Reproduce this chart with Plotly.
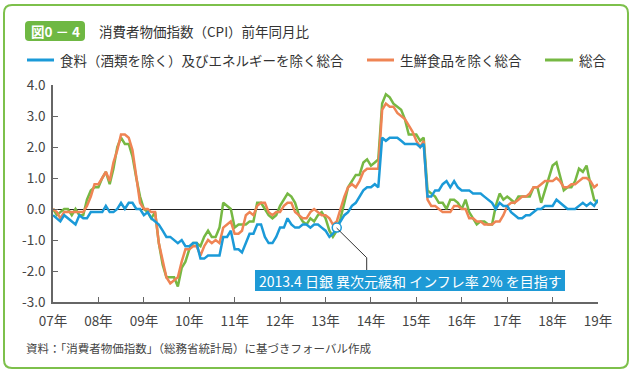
import pandas as pd
import plotly.graph_objects as go

# ---------------- data ----------------
months = pd.date_range("2007-01-01", "2019-01-01", freq="MS")

core_core = [  # 食料（酒類を除く）及びエネルギーを除く総合
    -0.2, -0.3, -0.4, -0.2, -0.3, -0.4, -0.5, -0.2, -0.3, -0.3, -0.1, -0.1,
    -0.1, -0.1, 0.1, -0.1, -0.1, 0.0, 0.2, 0.0, 0.2, 0.2, 0.0, 0.0,
    -0.2, -0.1, -0.3, -0.4, -0.5, -0.7, -0.9, -0.9, -1.0, -1.1, -1.0, -1.2,
    -1.2, -1.1, -1.1, -1.6, -1.6, -1.5, -1.5, -1.5, -1.5, -0.9, -0.9, -0.7,
    -1.3, -1.3, -1.4, -1.1, -0.8, -0.8, -0.5, -0.5, -0.9, -1.1, -1.1, -0.9,
    -0.6, -0.6, -0.3, -0.5, -0.6, -0.6, -0.5, -0.5, -0.6, -0.5, -0.5, -0.6,
    -0.7, -0.9, -0.8, -0.6, -0.4, -0.2, -0.1, 0.1, 0.2, 0.4, 0.6, 0.7,
    0.7, 0.8, 0.7, 2.3, 2.2, 2.3, 2.3, 2.3, 2.2, 2.1, 2.1, 2.1,
    2.1, 2.0, 2.1, 0.4, 0.4, 0.6, 0.6, 0.8, 0.9, 0.7, 0.9, 0.7,
    0.6, 0.6, 0.6, 0.5, 0.5, 0.5, 0.4, 0.3, 0.2, 0.0, 0.2, 0.1,
    0.1, -0.1, -0.2, -0.3, -0.3, -0.2, -0.2, -0.1, 0.0, 0.0, 0.1, 0.1,
    0.1, 0.3, 0.2, 0.1, 0.0, 0.0, 0.0, 0.1, 0.2, 0.1, 0.2, 0.1,
    0.3,
]

core = [  # 生鮮食品を除く総合
    0.0, -0.1, -0.3, -0.1, -0.1, -0.1, -0.1, -0.1, -0.1, 0.1, 0.4, 0.8,
    0.8, 1.0, 1.2, 0.9, 1.5, 1.9, 2.4, 2.4, 2.3, 1.9, 1.0, 0.2,
    0.0, 0.0, -0.1, -0.1, -1.1, -1.7, -2.2, -2.4, -2.3, -2.2, -1.7, -1.3,
    -1.3, -1.2, -1.2, -1.5, -1.2, -1.0, -1.1, -1.0, -1.1, -0.6, -0.5, -0.4,
    -0.8, -0.8, -0.7, -0.2, -0.1, -0.2, 0.1, 0.2, 0.2, -0.1, -0.2, -0.1,
    -0.1, 0.1, 0.2, 0.2, -0.1, -0.2, -0.3, -0.3, -0.1, 0.0, -0.1, -0.2,
    -0.2, -0.3, -0.5, -0.4, 0.0, 0.4, 0.7, 0.8, 0.7, 0.9, 1.2, 1.3,
    1.3, 1.3, 1.3, 3.2, 3.4, 3.3, 3.3, 3.1, 3.0, 2.9, 2.7, 2.5,
    2.2, 2.0, 2.2, 0.3, 0.1, 0.1, 0.0, -0.1, -0.1, -0.1, 0.1, 0.1,
    0.0, 0.0, -0.3, -0.3, -0.4, -0.4, -0.5, -0.5, -0.5, -0.4, -0.4, -0.2,
    0.1, 0.2, 0.2, 0.3, 0.4, 0.4, 0.5, 0.7, 0.7, 0.8, 0.9, 0.9,
    0.9, 1.0, 0.9, 0.7, 0.7, 0.8, 0.8, 0.9, 1.0, 1.0, 0.9, 0.7,
    0.8,
]

headline = [  # 総合
    0.0, -0.2, -0.1, 0.0, 0.0, -0.2, 0.0, -0.2, -0.2, 0.3, 0.6, 0.7,
    0.7, 1.0, 1.2, 0.8, 1.3, 2.0, 2.3, 2.1, 2.1, 1.7, 1.0, 0.4,
    0.0, -0.1, -0.3, -0.1, -1.1, -1.8, -2.2, -2.2, -2.2, -2.5, -1.9, -1.7,
    -1.3, -1.1, -1.1, -1.2, -0.9, -0.7, -0.9, -0.9, -0.6, 0.2, 0.1, 0.0,
    -0.6, -0.5, -0.5, -0.5, -0.4, -0.4, 0.2, 0.2, 0.0, -0.2, -0.3, -0.2,
    0.1, 0.3, 0.5, 0.4, 0.2, -0.2, -0.4, -0.5, -0.3, -0.4, -0.2, -0.1,
    -0.3, -0.7, -0.9, -0.7, -0.3, 0.2, 0.7, 0.9, 1.1, 1.1, 1.5, 1.6,
    1.4, 1.5, 1.6, 3.4, 3.7, 3.6, 3.4, 3.3, 3.2, 2.9, 2.4, 2.4,
    2.4, 2.2, 2.3, 0.6, 0.5, 0.4, 0.2, 0.2, 0.0, 0.3, 0.3, 0.2,
    0.0, 0.3, -0.1, -0.3, -0.5, -0.4, -0.4, -0.5, -0.5, 0.1, 0.5, 0.3,
    0.4, 0.3, 0.2, 0.4, 0.4, 0.4, 0.4, 0.7, 0.7, 0.2, 0.6, 1.0,
    1.4, 1.5, 1.1, 0.6, 0.7, 0.7, 0.9, 1.3, 1.2, 1.4, 0.8, 0.3,
    0.2,
]

series_names = ["食料（酒類を除く）及びエネルギーを除く総合", "生鮮食品を除く総合", "総合"]
year_ticks = [f"{y}-01-01" for y in range(2007, 2020)]
year_labels = ["07年", "08年", "09年", "10年", "11年", "12年", "13年",
               "14年", "15年", "16年", "17年", "18年", "19年"]
y_ticks = [-3, -2, -1, 0, 1, 2, 3, 4]
y_labels = ["-3.0", "-2.0", "-1.0", "0.0", "1.0", "2.0", "3.0", "4.0"]

event_month = "2013-04-01"
event_text = "2013.4 日銀 異次元緩和 インフレ率 2% を目指す"
title_badge = "図0 － 4"
title_text = "消費者物価指数（CPI）前年同月比"
source_text = "資料：「消費者物価指数」（総務省統計局）に基づきフォーバル作成"

# ---------------- style ----------------
BLUE = "#1b9ad8"
ORANGE = "#ef8454"
GREEN = "#76b843"
FRAME = "#7dc04b"
FONT = "Noto Sans CJK JP, Noto Sans, sans-serif"
W, H = 633, 373
L, R, T, B = 53, 598, 85, 302


def px(x):
    return (x - L) / (R - L)


def py(y):
    return (B - y) / (B - T)


def rounded(x0p, y0p, x1p, y1p, rad):
    x0, y0, x1, y1 = px(x0p), py(y0p), px(x1p), py(y1p)
    r, ry = rad / (R - L), rad / (B - T)
    return (f"M {x0+r},{y0} L {x1-r},{y0} Q {x1},{y0} {x1},{y0-ry} "
            f"L {x1},{y1+ry} Q {x1},{y1} {x1-r},{y1} L {x0+r},{y1} "
            f"Q {x0},{y1} {x0},{y1+ry} L {x0},{y0-ry} Q {x0},{y0} {x0+r},{y0} Z")


fig = go.Figure()
for vals, col in [(headline, GREEN), (core, ORANGE), (core_core, BLUE)]:
    fig.add_trace(go.Scatter(x=months, y=vals, mode="lines",
                             line=dict(color=col, width=2.5),
                             showlegend=False, hoverinfo="skip"))

ev_idx = list(months).index(pd.Timestamp(event_month))
ev_val = core_core[ev_idx]

shapes = []
annotations = []

# outer rounded frame
shapes.append(dict(type="path", xref="paper", yref="paper",
                   path=rounded(4, 5, 628, 368, 8),
                   line=dict(color=FRAME, width=2), layer="below"))

# title badge
shapes.append(dict(type="path", xref="paper", yref="paper",
                   path=rounded(25, 21, 85, 41, 4),
                   fillcolor="#6fb843", line=dict(width=0), layer="below"))
annotations.append(dict(xref="paper", yref="paper", x=px(55), y=py(31),
                        xanchor="center", yanchor="middle",
                        text=f"<b>{title_badge}</b>", showarrow=False,
                        font=dict(color="white", size=13.5, family=FONT)))
annotations.append(dict(xref="paper", yref="paper", x=px(97), y=py(31),
                        xanchor="left", yanchor="middle", text=title_text,
                        showarrow=False, font=dict(color="#333", size=13.5, family=FONT)))

# legend
legend_pos = [(27, 54, 58), (367, 394, 398), (545, 573, 577)]
for (lx0, lx1, tx), name, col in zip(legend_pos, series_names, [BLUE, ORANGE, GREEN]):
    shapes.append(dict(type="line", xref="paper", yref="paper",
                       x0=px(lx0), x1=px(lx1), y0=py(60), y1=py(60),
                       line=dict(color=col, width=3)))
    annotations.append(dict(xref="paper", yref="paper", x=px(tx), y=py(60),
                            xanchor="left", yanchor="middle", text=name,
                            showarrow=False, font=dict(color="#333", size=13.5, family=FONT)))

# event leader line and box
shapes.append(dict(type="path", xref="paper", yref="paper",
                   path=f"M {px(336.6)},{py(228)} L {px(366.7)},{py(257.7)} L {px(366.7)},{py(270)}",
                   line=dict(color="#333", width=1)))
shapes.append(dict(type="rect", xref="paper", yref="paper",
                   x0=px(255), x1=px(565), y0=py(270), y1=py(291),
                   fillcolor="#1e9ad6", line=dict(width=0)))
annotations.append(dict(xref="paper", yref="paper", x=px(410), y=py(280.5),
                        xanchor="center", yanchor="middle", text=event_text,
                        showarrow=False, font=dict(color="white", size=14, family=FONT)))

# source
annotations.append(dict(xref="paper", yref="paper", x=px(24), y=py(348),
                        xanchor="left", yanchor="middle", text=source_text,
                        showarrow=False, font=dict(color="#444", size=11.5, family=FONT)))

fig.add_trace(go.Scatter(x=[months[ev_idx]], y=[ev_val], mode="markers",
                         marker=dict(size=9, color="white", line=dict(color=BLUE, width=1.5)),
                         showlegend=False, hoverinfo="skip"))

fig.update_layout(
    width=W, height=H,
    margin=dict(l=L, r=W - R, t=T, b=H - B, autoexpand=False),
    paper_bgcolor="white", plot_bgcolor="white",
    font=dict(family=FONT, color="#444", size=13.5),
    shapes=shapes, annotations=annotations,
    xaxis=dict(type="date", range=["2007-01-01", "2019-01-01"],
               tickvals=year_ticks, ticktext=year_labels,
               showgrid=False, zeroline=False, showline=True,
               linecolor="#666", linewidth=1.5, ticks="inside", ticklen=5,
               tickcolor="#666", tickwidth=1, ticklabelstandoff=6,
               tickfont=dict(size=13.5, color="#444")),
    yaxis=dict(range=[-3, 4], tickvals=y_ticks, ticktext=y_labels,
               showgrid=False, zeroline=True, zerolinecolor="#222", zerolinewidth=1,
               showline=True, linecolor="#666", linewidth=1.5,
               ticks="inside", ticklen=5, tickcolor="#666", tickwidth=1,
               ticklabelstandoff=3, tickfont=dict(size=13.5, color="#444")),
)

fig.write_html("out.html", config={"displayModeBar": False},
               post_script="document.body.style.margin='0px';")
